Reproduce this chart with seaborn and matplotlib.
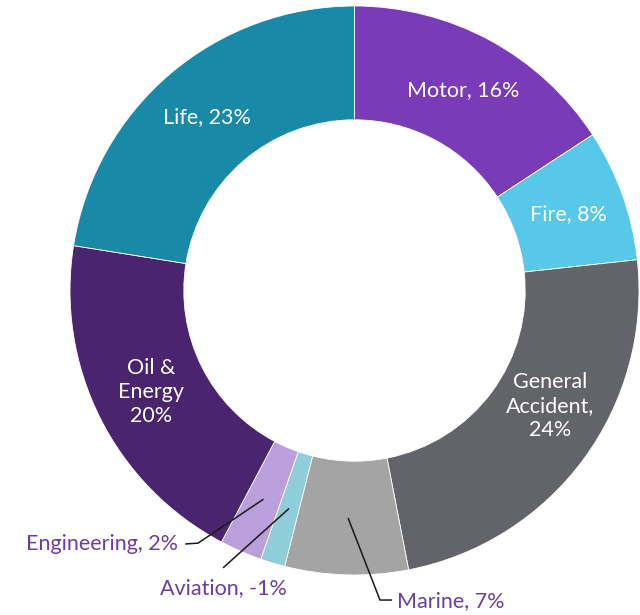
"""
Donut chart: premium mix by line of business.
"""

import numpy as np
import matplotlib.pyplot as plt
import seaborn as sns

# data (clockwise from 12 o'clock)
segments = ["Motor", "Fire", "General Accident", "Marine", "Aviation",
            "Engineering", "Oil & Energy", "Life"]
shares = [15.8, 7.5, 23.7, 7.0, 1.4, 2.4, 19.8, 22.5]   # slice sizes
shown_pct = [16, 8, 24, 7, -1, 2, 20, 23]                 # printed labels
colors = ["#7A3BB9", "#57C8E7", "#636469", "#A4A4A4", "#90CDDA",
          "#BB9FDC", "#4A246F", "#1989A8"]

label_text = {
    "Motor": f"Motor, {shown_pct[0]}%",
    "Fire": f"Fire, {shown_pct[1]}%",
    "General Accident": f"General\nAccident,\n{shown_pct[2]}%",
    "Marine": f"Marine, {shown_pct[3]}%",
    "Aviation": f"Aviation, {shown_pct[4]}%",
    "Engineering": f"Engineering, {shown_pct[5]}%",
    "Oil & Energy": f"Oil &\nEnergy\n{shown_pct[6]}%",
    "Life": f"Life, {shown_pct[7]}%",
}
inside = ["Motor", "Fire", "General Accident", "Oil & Energy", "Life"]
angle_nudge = {"General Accident": 5.8}

# leader lines for the small slices: path points after the anchor, then text pos
leaders = {
    "Engineering": ([(-0.550, -0.888), (-0.595, -0.891)], (-0.622, -0.891), "right"),
    "Aviation": ([(-0.462, -0.975)], (-0.462, -1.046), "center"),
    "Marine": ([(0.0896, -1.088), (0.132, -1.088)], (0.150, -1.091), "left"),
}

sns.set_theme(style="white")
plt.rcParams["font.family"] = ["Lato", "DejaVu Sans"]

W, H = 640, 615
cx, cy, R = 354.5, 290.5, 284.5   # donut centre / radius in pixels

fig = plt.figure(figsize=(W / 100, H / 100), dpi=100)
ax = fig.add_axes([0, 0, 1, 1])

wedges, _ = ax.pie(
    shares,
    colors=colors,
    startangle=90,
    counterclock=False,
    radius=1.0,
    wedgeprops=dict(width=0.4, edgecolor="white", linewidth=0.6),
)

fs = 15.5
label_color = "#6B3FA0"
for name, w in zip(segments, wedges):
    mid = np.deg2rad((w.theta1 + w.theta2) / 2 + angle_nudge.get(name, 0))
    x, y = 0.8 * np.cos(mid), 0.8 * np.sin(mid)
    if name in inside:
        ax.text(x, y, label_text[name], ha="center", va="center",
                color="white", fontsize=fs, linespacing=1.25)
    else:
        pts, (tx, ty), ha = leaders[name]
        xs = [x] + [p[0] for p in pts]
        ys = [y] + [p[1] for p in pts]
        ax.plot(xs, ys, color="#1a1a1a", linewidth=1.1, solid_capstyle="butt")
        ax.text(tx, ty, label_text[name], ha=ha, va="center",
                color=label_color, fontsize=fs)

ax.set_xlim(-cx / R, (W - cx) / R)
ax.set_ylim(-(H - cy) / R, cy / R)
ax.axis("off")

fig.savefig("out.png", dpi=100)
plt.close(fig)
